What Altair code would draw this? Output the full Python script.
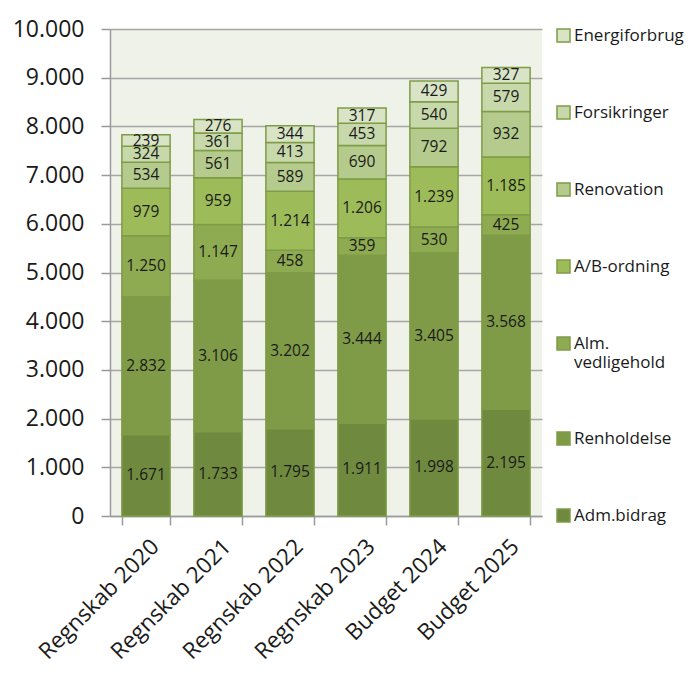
import altair as alt
import pandas as pd

categories = ["Regnskab 2020", "Regnskab 2021", "Regnskab 2022",
              "Regnskab 2023", "Budget 2024", "Budget 2025"]

# stacking order: bottom -> top
series = ["Adm.bidrag", "Renholdelse", "Alm. vedligehold", "A/B-ordning",
          "Renovation", "Forsikringer", "Energiforbrug"]

adm_bidrag = [1671, 1733, 1795, 1911, 1998, 2195]
renholdelse = [2832, 3106, 3202, 3444, 3405, 3568]
alm_vedligehold = [1250, 1147, 458, 359, 530, 425]
ab_ordning = [979, 959, 1214, 1206, 1239, 1185]
renovation = [534, 561, 589, 690, 792, 932]
forsikringer = [324, 361, 413, 453, 540, 579]
energiforbrug = [239, 276, 344, 317, 429, 327]

colors = ["#6f8a3f", "#7f9b48", "#8eab52", "#9dbc59",
          "#b4cb8d", "#c7d8ab", "#d8e4c5"]

y_ticks = [0, 1000, 2000, 3000, 4000, 5000, 6000, 7000, 8000, 9000, 10000]

all_values = [adm_bidrag, renholdelse, alm_vedligehold, ab_ordning,
              renovation, forsikringer, energiforbrug]

rows = []
for si, (name, vals) in enumerate(zip(series, all_values)):
    for ci, cat in enumerate(categories):
        v = vals[ci]
        rows.append({"cat": cat, "serie": name, "value": v, "idx": si,
                     "label": f"{v:,}".replace(",", ".")})
df = pd.DataFrame(rows)

legend_domain = series[::-1]
legend_range = colors[::-1]

FONT = "Open Sans"

base = alt.Chart(df)

bars = base.mark_bar(stroke="#7f9c47", strokeWidth=1.5).encode(
    x=alt.X("cat:N", sort=categories, title=None,
            scale=alt.Scale(paddingInner=0.33, paddingOuter=0.165),
            axis=alt.Axis(labelAngle=-45, labelAlign="right", labelBaseline="top",
                          labelFontSize=22.5, labelFont=FONT, labelColor="#1a1a1a",
                          labelPadding=10, labelOffset=1, tickBand="extent",
                          tickSize=9, tickColor="#9a9a9a", tickWidth=1.5,
                          domainColor="#9a9a9a", domainWidth=1.5, grid=False)),
    y=alt.Y("value:Q", stack="zero", title=None,
            scale=alt.Scale(domain=[0, 10000], nice=False),
            axis=alt.Axis(values=y_ticks, labelFontSize=23, labelFont=FONT,
                          labelColor="#1a1a1a", labelPadding=17,
                          labelExpr="replace(format(datum.value, ','), ',', '.')",
                          tickSize=9, tickColor="#9a9a9a", tickWidth=1.5,
                          domainColor="#9a9a9a", domainWidth=1.5,
                          gridColor="#a6a6a6", gridWidth=1.5)),
    color=alt.Color("serie:N",
                    scale=alt.Scale(domain=legend_domain, range=legend_range),
                    legend=alt.Legend(orient="none", legendX=445, legendY=-2,
                                      title=None, symbolType="square",
                                      symbolSize=169, symbolStrokeColor="#7f9c47",
                                      symbolStrokeWidth=1.5, labelFontSize=17,
                                      labelFont=FONT, labelColor="#1a1a1a",
                                      labelOffset=2, rowPadding=58, padding=0,
                                      labelLimit=200,
                                      labelExpr="datum.label == 'Alm. vedligehold' ? ['Alm.', 'vedligehold'] : datum.label")),
    order=alt.Order("idx:Q", sort="ascending"),
)

texts = base.transform_stack(
    stack="value", groupby=["cat"], sort=[alt.SortField("idx", order="ascending")],
    as_=["y0", "y1"]
).transform_calculate(
    mid="(datum.y0 + datum.y1) / 2"
).mark_text(fontSize=15.5, font=FONT, color="#1a1a1a", baseline="middle").encode(
    x=alt.X("cat:N", sort=categories),
    y=alt.Y("mid:Q"),
    text="label:N",
)

chart = alt.layer(bars, texts).properties(
    width=432, height=487,
    autosize=alt.AutoSizeParams(type="none"),
    padding={"left": 102, "top": 21, "right": 147, "bottom": 155},
).configure_view(fill="#eff2e8", strokeWidth=0)

chart.save("out.html", embed_options={"renderer": "svg", "actions": False})
